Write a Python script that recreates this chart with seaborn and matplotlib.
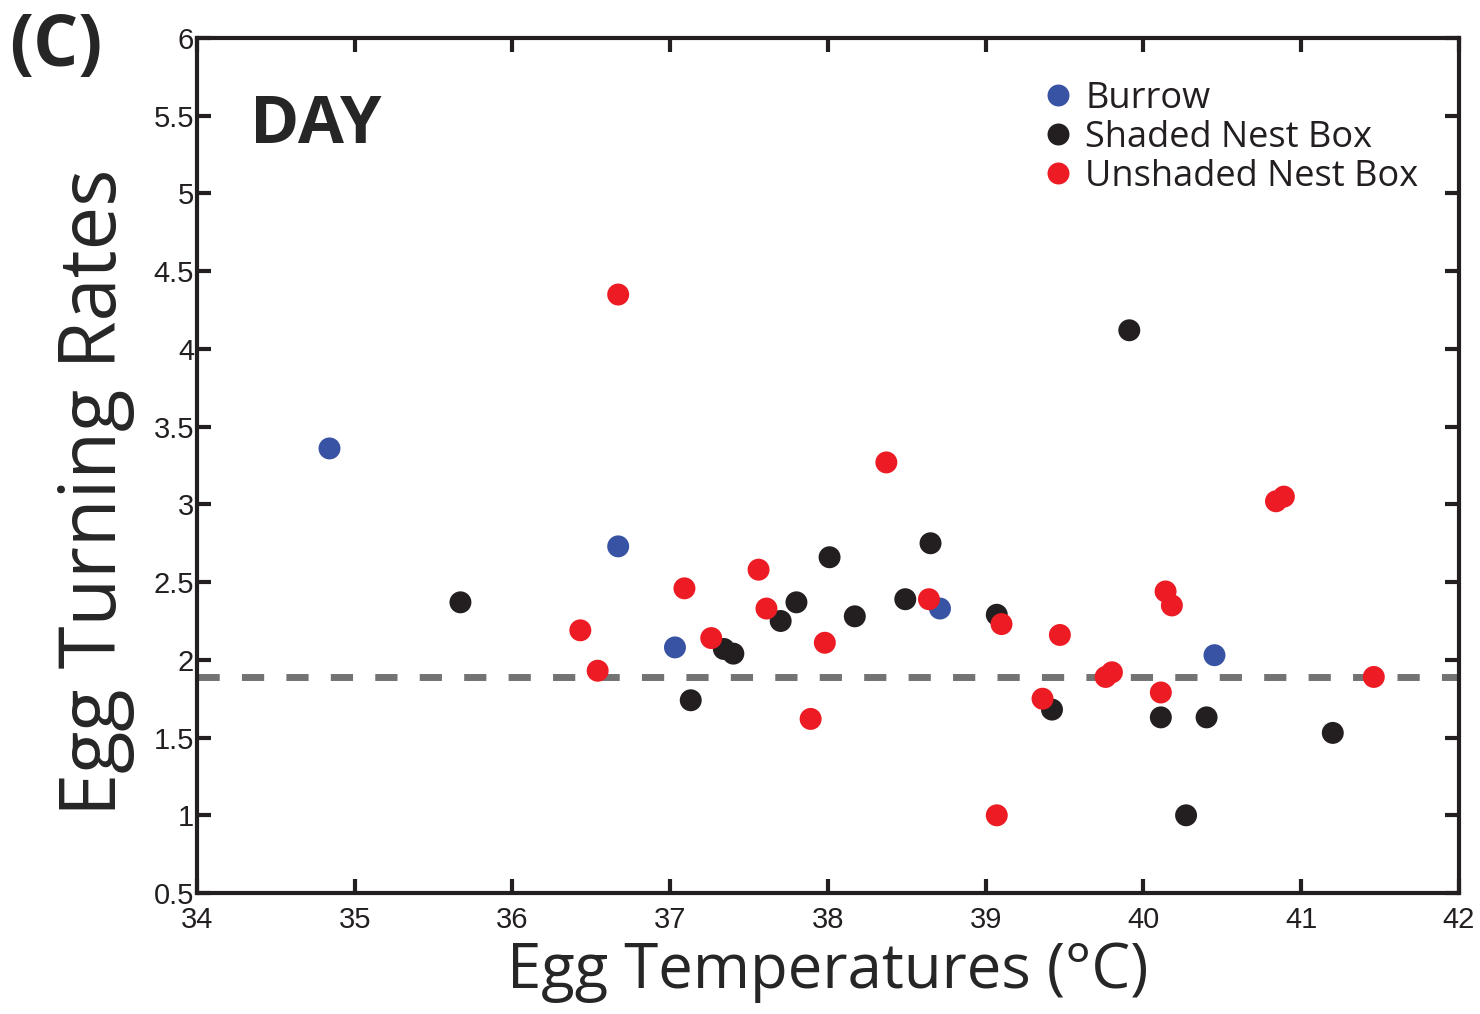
import numpy as np
import pandas as pd
import matplotlib
matplotlib.use("Agg")
import matplotlib.pyplot as plt
import seaborn as sns

# Egg temperatures (x) and turning rates (y), by nest type
burrow_temp = [34.84, 36.67, 37.03, 38.71, 40.45]
burrow_rate = [3.36, 2.73, 2.08, 2.33, 2.03]

shaded_temp = [35.67, 37.13, 37.34, 37.40, 37.70, 37.80, 38.01, 38.17, 38.49,
               38.65, 39.07, 39.42, 39.91, 40.11, 40.27, 40.40, 41.20]
shaded_rate = [2.37, 1.74, 2.07, 2.04, 2.25, 2.37, 2.66, 2.28, 2.39,
               2.75, 2.29, 1.68, 4.12, 1.63, 1.00, 1.63, 1.53]

unshaded_temp = [36.67, 36.43, 36.54, 37.09, 37.26, 37.56, 37.61, 37.98, 37.89,
                 38.37, 38.64, 39.07, 39.10, 39.36, 39.47, 39.76, 39.80, 40.11,
                 40.14, 40.18, 40.84, 40.89, 41.46]
unshaded_rate = [4.35, 2.19, 1.93, 2.46, 2.14, 2.58, 2.33, 2.11, 1.62,
                 3.27, 2.39, 1.00, 2.23, 1.75, 2.16, 1.89, 1.92, 1.79,
                 2.44, 2.35, 3.02, 3.05, 1.89]

mean_rate = 1.89
groups = ["Burrow", "Shaded Nest Box", "Unshaded Nest Box"]
colors = ["#3953A4", "#231F20", "#ED1C24"]

df = pd.concat([
    pd.DataFrame({"temp": burrow_temp, "rate": burrow_rate, "group": groups[0]}),
    pd.DataFrame({"temp": shaded_temp, "rate": shaded_rate, "group": groups[1]}),
    pd.DataFrame({"temp": unshaded_temp, "rate": unshaded_rate, "group": groups[2]}),
])

sns.set_style("ticks")
plt.rcParams['font.family'] = ['Liberation Sans', 'DejaVu Sans']

fig = plt.figure(figsize=(14.8, 10.14), dpi=100)
ax = fig.add_axes([0.1331, 0.1193, 0.8527, 0.8432])

sns.scatterplot(data=df, x="temp", y="rate", hue="group", hue_order=groups,
                palette=colors, s=250, linewidth=0, ax=ax, zorder=3)

# mean turning rate
ax.axhline(mean_rate, color="#737373", lw=5, dashes=(3.2, 3.2), zorder=2)

ax.set_xlim(34, 42)
ax.set_ylim(0.5, 6)
ax.set_xticks(np.arange(34, 43, 1))
ax.set_yticks(np.arange(0.5, 6.01, 0.5))
ax.set_yticklabels(["0.5", "1", "1.5", "2", "2.5", "3", "3.5", "4", "4.5", "5", "5.5", "6"])

for sp in ax.spines.values():
    sp.set_visible(True)
    sp.set_linewidth(3)
    sp.set_color("#231F20")
ax.tick_params(direction="in", length=10, width=3, top=True, right=True,
               labelsize=21, colors="#231F20")
ax.tick_params(axis="y", pad=2)
ax.tick_params(axis="x", pad=9)

ax.set_xlabel("Egg Temperatures (°C)", fontsize=44.5, family="Open Sans", labelpad=5)
ax.set_ylabel("Egg Turning Rates", fontsize=56, family="Open Sans")
ax.yaxis.set_label_coords(-0.049, 0.469)

ax.text(0.042, 0.898, "DAY", transform=ax.transAxes, fontsize=48,
        fontweight="bold", family="Open Sans", va="center")
fig.text(0.006, 0.954, "(C)", fontsize=51, fontweight="bold",
         family="Open Sans", va="center")

leg = ax.legend(loc="upper right", bbox_to_anchor=(0.985, 0.975), frameon=False,
                fontsize=26, handlelength=1.0, handletextpad=0.25,
                labelspacing=0.08, borderaxespad=0.2, markerscale=1.0)
for t in leg.get_texts():
    t.set_family("Open Sans")
    t.set_color("#231F20")

fig.savefig("out.png", dpi=100)
